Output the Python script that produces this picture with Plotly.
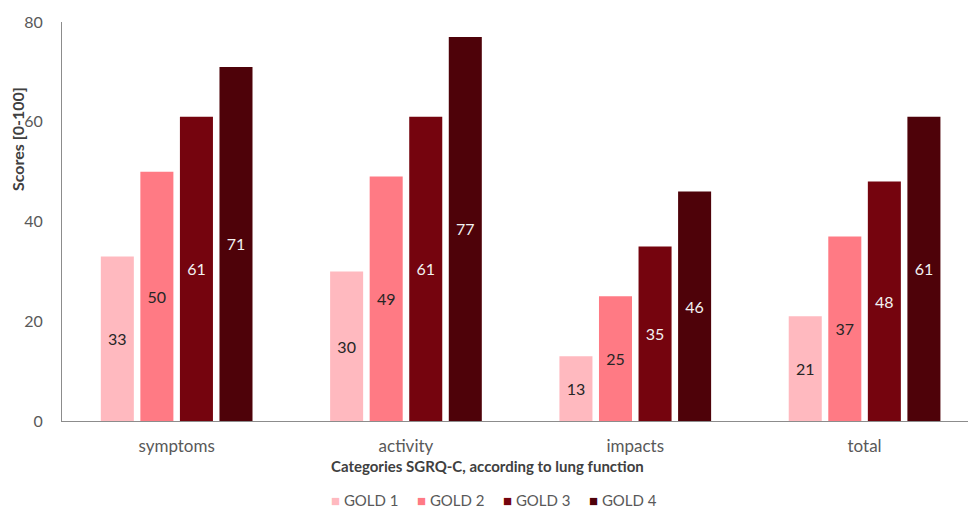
import plotly.graph_objects as go

# SGRQ-C scores by category and GOLD stage
categories = ["symptoms", "activity", "impacts", "total"]
gold1 = [33, 30, 13, 21]
gold2 = [50, 49, 25, 37]
gold3 = [61, 61, 35, 48]
gold4 = [71, 77, 46, 61]
series_names = ["GOLD 1", "GOLD 2", "GOLD 3", "GOLD 4"]
y_ticks = [0, 20, 40, 60, 80]

colors = ["#FFB9BF", "#FF7A84", "#75040E", "#4E0209"]
label_colors = ["#262626", "#262626", "#F2F2F2", "#F2F2F2"]
FONT = "Lato, 'Open Sans', sans-serif"

W, H = 968, 511
M_L, M_R, M_T, M_B = 62, 0, 22, 90
plot_w = W - M_L - M_R
plot_h = H - M_T - M_B


def px_to_paper_x(px):
    return (px - M_L) / plot_w


def px_to_paper_y(py):
    return ((H - M_B) - py) / plot_h


fig = go.Figure()
for name, vals, col, tcol in zip(series_names, [gold1, gold2, gold3, gold4], colors, label_colors):
    fig.add_trace(go.Bar(
        name=name,
        x=categories,
        y=vals,
        marker=dict(color=col, line=dict(width=0)),
        text=[str(v) for v in vals],
        textposition="inside",
        insidetextanchor="middle",
        textangle=0,
        textfont=dict(family=FONT, size=16, color=tcol),
        showlegend=False,
    ))

# Compact legend row beneath the axis title: coloured square + series name
legend_start_px = 330
legend_step_px = 86
legend_notes = []
for i, (name, col) in enumerate(zip(series_names, colors)):
    legend_notes.append(dict(
        text=f'<span style="color:{col}">■</span> {name}',
        xref="paper", yref="paper",
        x=px_to_paper_x(legend_start_px + i * legend_step_px), y=px_to_paper_y(510),
        xanchor="left", yanchor="bottom",
        borderpad=0,
        showarrow=False,
        font=dict(family=FONT, size=15, color="#595959"),
    ))

fig.update_layout(
    width=W,
    height=H,
    margin=dict(l=M_L, r=M_R, t=M_T, b=M_B, autoexpand=False),
    paper_bgcolor="white",
    plot_bgcolor="white",
    barmode="group",
    bargap=0.31,
    bargroupgap=0.165,
    font=dict(family=FONT, size=16, color="#595959"),
    showlegend=False,
    xaxis=dict(
        type="category",
        range=[-0.5, 3.451],
        showline=True,
        linecolor="#8C8C8C",
        linewidth=1,
        showgrid=False,
        ticks="",
        ticklabelstandoff=10,
        tickfont=dict(family=FONT, size=17, color="#595959"),
        zeroline=False,
        automargin=False,
    ),
    yaxis=dict(
        range=[0, 80],
        tickvals=y_ticks,
        showline=True,
        linecolor="#8C8C8C",
        linewidth=1,
        showgrid=False,
        ticks="",
        ticklabelstandoff=15,
        tickfont=dict(family=FONT, size=16, color="#595959"),
        zeroline=False,
        automargin=False,
    ),
    annotations=[
        dict(
            text="<b>Categories SGRQ-C, according to lung function</b>",
            xref="paper", yref="paper",
            x=px_to_paper_x(487), y=px_to_paper_y(466),
            xanchor="center", yanchor="middle",
            showarrow=False,
            font=dict(family=FONT, size=15, color="#404040"),
        ),
        dict(
            text="<b>Scores [0-100]</b>",
            xref="paper", yref="paper",
            x=px_to_paper_x(17), y=px_to_paper_y(139),
            xanchor="center", yanchor="middle",
            textangle=-90,
            showarrow=False,
            font=dict(family=FONT, size=16, color="#404040"),
        ),
    ] + legend_notes,
)

fig.write_html("out.html")
